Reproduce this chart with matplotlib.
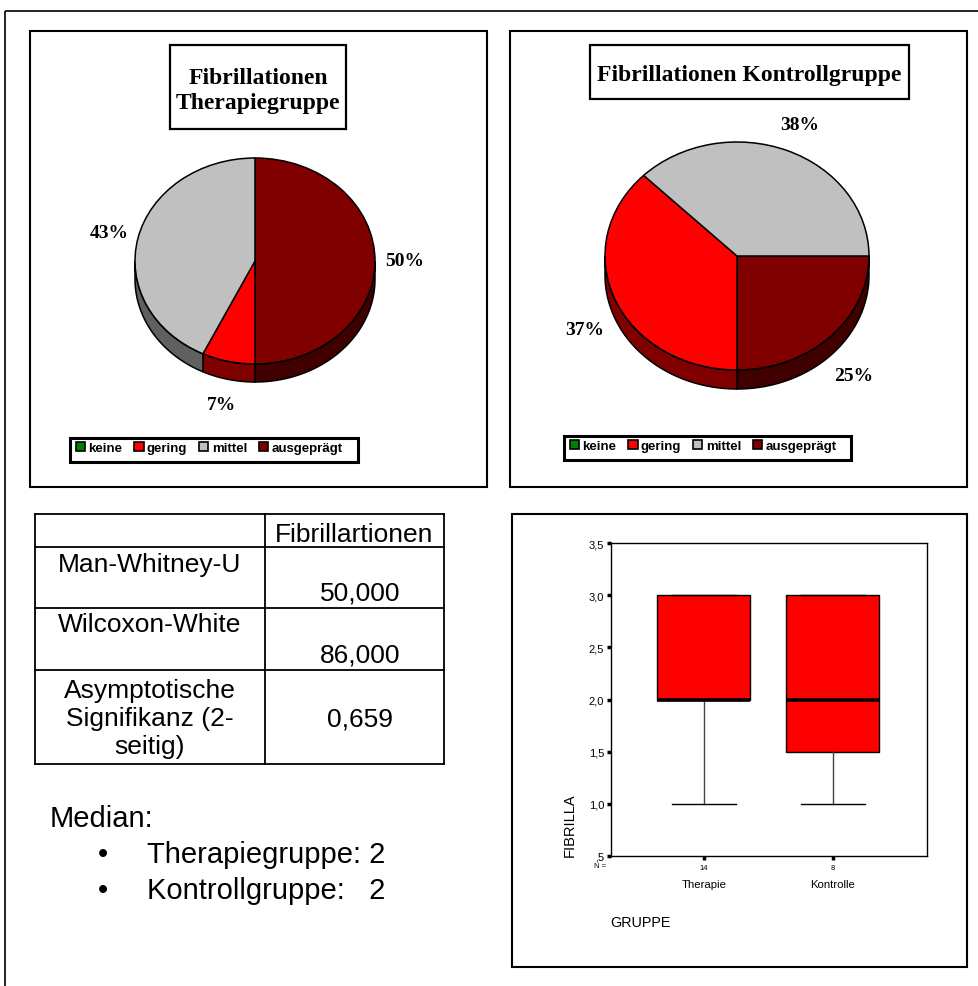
import numpy as np
import matplotlib
matplotlib.use("Agg")
import matplotlib.pyplot as plt
from matplotlib.patches import Rectangle, Polygon, Patch

# --- data -------------------------------------------------------------
categories = ['keine', 'gering', 'mittel', 'ausgeprägt']
cat_colors = ['#008000', '#ff0000', '#c0c0c0', '#800000']
side_colors = ['#004000', '#800000', '#606060', '#400000']

therapie_counts = [0, 1, 6, 7]
kontrolle_counts = [0, 3, 3, 2]
therapie_pct = ['', '7%', '43%', '50%']
kontrolle_pct = ['', '37%', '38%', '25%']
slice_order = [3, 1, 2]          # clockwise order of the slices

table_header = 'Fibrillartionen'
table_rows = ['Man-Whitney-U', 'Wilcoxon-White', 'Asymptotische\nSignifikanz (2-\nseitig)']
table_values = ['50,000', '86,000', '0,659']

median_lines = ['Therapiegruppe: 2', 'Kontrollgruppe:   2']

groups = ['Therapie', 'Kontrolle']
group_n = [14, 8]
q1 = [2.0, 1.5]
med = [2.0, 2.0]
q3 = [3.0, 3.0]
whis_lo = [1.0, 1.0]
whis_hi = [3.0, 3.0]

W, H = 979, 987
SANS = 'Liberation Sans'
SERIF = 'Liberation Serif'

fig = plt.figure(figsize=(W / 100, H / 100), dpi=100)

def fx(px):
    return px / W

def fy(py):
    return 1 - py / H

# overlay axes in pixel coordinates for frames and text
ax0 = fig.add_axes([0, 0, 1, 1])
ax0.set_xlim(0, W)
ax0.set_ylim(H, 0)
ax0.axis('off')

def frame(x, y, w, h, lw=1.5):
    ax0.add_patch(Rectangle((x, y), w, h, fill=False, ec='black', lw=lw))

frame(5, 12, 1100, 1100, lw=1.2)
frame(30, 32, 457, 456)
frame(510, 32, 457, 456)
frame(512, 515, 455, 453)


def draw_pie(cx, cy, rx, ry, depth, counts, pct, start, title, title_box, legend_box):
    ax = fig.add_axes([fx(cx - rx), fy(cy + ry + depth), 2 * rx / W, (2 * ry + depth) / H])
    vals = [counts[i] for i in slice_order]
    cols = [cat_colors[i] for i in slice_order]
    labs = [pct[i] for i in slice_order]
    wedges, texts = ax.pie(vals, colors=cols, labels=labs, startangle=start,
                           counterclock=False, labeldistance=1.25,
                           wedgeprops=dict(edgecolor='black', linewidth=1.1),
                           textprops=dict(family=SERIF, weight='bold', size=14))
    ax.set_aspect('auto')
    ax.set_xlim(-1, 1)
    d = depth / ry
    ax.set_ylim(-1 - d, 1)
    ax.axis('off')
    # side walls of the 3d pie
    for w, i in zip(wedges, slice_order):
        w.set_clip_on(False)
        for k in range(-2, 3):
            lo = max(w.theta1 + 360 * k, 180)
            hi = min(w.theta2 + 360 * k, 360)
            if lo >= hi:
                continue
            t = np.radians(np.linspace(lo, hi, 80))
            top = np.column_stack([np.cos(t), np.sin(t)])
            bot = np.column_stack([np.cos(t[::-1]), np.sin(t[::-1]) - d])
            ax.add_patch(Polygon(np.vstack([top, bot]), closed=True, fc=side_colors[i],
                                 ec='black', lw=1.1, zorder=0, clip_on=False))
    for t in texts:
        x, y = t.get_position()
        if y < 0:
            t.set_position((x, y - d))
        t.set_ha('center')
        t.set_clip_on(False)

    bx, by, bw, bh = title_box
    ax0.add_patch(Rectangle((bx, by), bw, bh, fill=False, ec='black', lw=1.6))
    ax0.text(bx + bw / 2, by + bh / 2 + 3, title, ha='center', va='center',
             family=SERIF, weight='bold', size=17, linespacing=1.3)

    lx, ly, lw_, lh = legend_box
    ax0.add_patch(Rectangle((lx, ly), lw_, lh, fill=False, ec='black', lw=2.2))
    handles = [Patch(fc=c, ec='black', lw=1.2) for c in cat_colors]
    fig.legend(handles, categories, loc='upper left',
               bbox_to_anchor=(fx(lx + 6), fy(ly + 4)), ncol=4, frameon=False,
               prop=dict(family=SANS, weight='bold', size=9.5),
               handlelength=0.7, handleheight=0.7, handletextpad=0.25,
               columnspacing=0.9, borderpad=0, borderaxespad=0)


draw_pie(255, 262, 120, 103, 18, therapie_counts, therapie_pct, 90,
         'Fibrillationen\nTherapiegruppe', (170, 46, 176, 84), (70, 439, 288, 24))
draw_pie(737, 257, 132, 114, 19, kontrolle_counts, kontrolle_pct, 0,
         'Fibrillationen Kontrollgruppe', (590, 46, 319, 54), (564, 437, 287, 24))

# --- table ------------------------------------------------------------
col_x = [35, 265, 444]
row_y = [515, 548, 609, 671, 765]
for y in row_y:
    ax0.plot([col_x[0], col_x[2]], [y, y], color='black', lw=1.3)
for x in col_x:
    ax0.plot([x, x], [row_y[0], row_y[-1]], color='black', lw=1.3)
TS = 19
ax0.text((col_x[1] + col_x[2]) / 2, 542, table_header,
         ha='center', va='baseline', family=SANS, size=TS)
label_base = [572, 632, 698]
value_base = [600, 662, 727]
for lab, val, lb, vb in zip(table_rows, table_values, label_base, value_base):
    for j, part in enumerate(lab.split('\n')):
        ax0.text((col_x[0] + col_x[1]) / 2, lb + 28 * j, part, ha='center',
                 va='baseline', family=SANS, size=TS)
    ax0.text((col_x[1] + col_x[2]) / 2 + 6, vb, val, ha='center', va='baseline',
             family=SANS, size=TS)

ax0.text(50, 827, 'Median:', ha='left', va='baseline', family=SANS, size=21)
for i, line in enumerate(median_lines):
    y = 863 + 36 * i
    ax0.text(103, y, '\u2022', ha='center', va='baseline', family=SANS, size=21)
    ax0.text(147, y, line, ha='left', va='baseline', family=SANS, size=21)

# --- box plot -----------------------------------------------------------
axb = fig.add_axes([fx(611), fy(857), (927 - 611) / W, (857 - 544) / H])
stats = [dict(label=g, q1=a, med=m, q3=b, whislo=lo, whishi=hi, fliers=[])
         for g, a, m, b, lo, hi in zip(groups, q1, med, q3, whis_lo, whis_hi)]
axb.bxp(stats, positions=[1, 2], widths=0.72, capwidths=0.5, patch_artist=True,
        showfliers=False,
        boxprops=dict(facecolor='#ff0000', edgecolor='black', linewidth=1),
        medianprops=dict(color='black', linewidth=2.6),
        whiskerprops=dict(color='#444444', linewidth=1),
        capprops=dict(color='black', linewidth=1))
axb.set_xlim(0.28, 2.73)
axb.set_ylim(0.5, 3.5)
yt = np.arange(0.5, 3.51, 0.5)
ylab = []
for v in yt:
    s = f'{v:.1f}'.replace('.', ',')
    ylab.append(s[1:] if s.startswith('0') else s)
axb.set_yticks(yt)
axb.set_yticklabels(ylab, family=SANS, size=8)
axb.set_xticks([1, 2])
axb.set_xticklabels([str(n) for n in group_n], family=SANS, size=5.5)
axb.tick_params(axis='y', length=3, width=2.5, pad=2)
axb.tick_params(axis='x', length=3, width=2.5, pad=3)
for s in axb.spines.values():
    s.set_linewidth(1)
for pos, g in zip([1, 2], groups):
    axb.text(pos, -0.09, g, transform=axb.get_xaxis_transform(), ha='center',
             va='center', family=SANS, size=8.2)
axb.text(-0.035, -0.03, 'N =', transform=axb.transAxes, ha='center', va='center',
         family=SANS, size=5.5)
axb.text(-0.003, -0.21, 'GRUPPE', transform=axb.transAxes, ha='left', va='center',
         family=SANS, size=10.4)
axb.text(-0.13, 0, 'FIBRILLA', transform=axb.transAxes, ha='center', va='bottom',
         rotation=90, family=SANS, size=10.5)

fig.savefig('out.png', dpi=100)
